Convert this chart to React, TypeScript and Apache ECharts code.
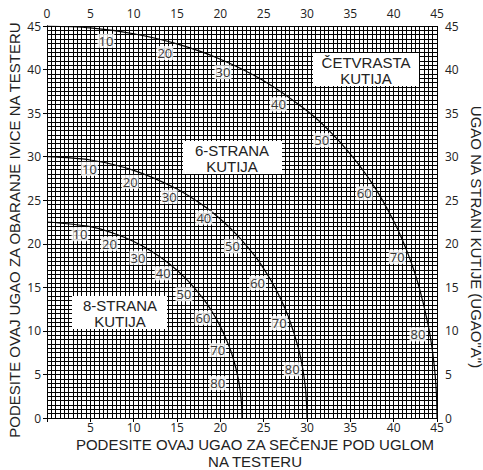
import React, { useEffect, useRef } from "react";
import * as echarts from "echarts";

// Curves: [saw cut angle (x), blade tilt angle (y)]
const squareCurve: number[][] = [[0,45],[5,44.78],[10,44.11],[15,42.94],[20,41.19],[25,38.72],[30,35.26],[33,32.53],[36,29.07],[38,26.19],[40,22.62],[41,20.46],[42,17.92],[43,14.79],[44,10.58],[44.5,7.53],[44.8,4.78],[44.95,2.39],[45,0]];
const sixCurve: number[][] = [[0,30],[5,29.62],[10,28.43],[15,26.29],[18,24.41],[20,22.84],[22,20.93],[24,18.57],[25,17.15],[26,15.52],[27,13.6],[28,11.23],[29,8.04],[29.5,5.71],[29.8,3.63],[29.95,1.55],[30,0]];
const eightCurve: number[][] = [[0,22.5],[5,21.97],[8,21.1],[10,20.26],[12,19.18],[14,17.8],[16,16.03],[18,13.73],[19,12.28],[20,10.52],[21,8.26],[21.5,6.8],[22,4.84],[22.3,3.08],[22.45,1.55],[22.5,0]];

const sideAngles: string[] = ["10","20","30","40","50","60","70","80"];
const squareLabelPos: number[][] = [[6.8,43.3],[13.6,41.9],[20.3,39.7],[26.7,36.0],[31.7,31.9],[36.6,25.8],[40.4,18.5],[42.8,9.6]];
const sixLabelPos: number[][] = [[4.9,28.6],[9.6,27.1],[14.1,25.4],[18.1,23.0],[21.4,19.7],[24.3,15.5],[26.8,10.9],[28.3,5.6]];
const eightLabelPos: number[][] = [[3.8,21.1],[7.2,20.0],[10.5,18.4],[13.4,16.6],[15.8,14.2],[18.0,11.5],[19.7,7.8],[19.7,4.0]];

const TXT = "#222";
const FONT = "'Liberation Sans', Arial, sans-serif";

function labelSeries(pos: number[][]) {
  return {
    type: "scatter",
    symbolSize: 0,
    silent: true,
    z: 5,
    data: pos.map((p, i) => ({ value: p, name: sideAngles[i] })),
    label: {
      show: true,
      position: "inside",
      formatter: (p: any) => p.name,
      color: "#000",
      fontSize: 13,
      fontFamily: "'Open Sans', sans-serif",
      backgroundColor: "#fff",
      padding: [0, 1, 0, 1],
      lineHeight: 14,
    },
  };
}

function curveSeries(data: number[][]) {
  return {
    type: "line",
    data,
    smooth: 0.3,
    showSymbol: false,
    symbol: "none",
    silent: true,
    z: 4,
    lineStyle: { color: "#000", width: 1.2 },
  };
}

export default function App() {
  const ref = useRef<HTMLDivElement>(null);
  useEffect(() => {
    const chart = echarts.init(ref.current!, undefined, { renderer: "svg" });
    const lineStyle = { color: "#000", width: 1 };
    const baseAxis = {
      type: "value",
      min: 0,
      max: 45,
      interval: 5,
      axisLine: { show: true, lineStyle: { color: "#000", width: 1 } },
      axisTick: { show: true, length: 4, lineStyle: { color: "#000" } },
      axisLabel: { color: TXT, fontSize: 12, fontFamily: "'Open Sans', sans-serif", margin: 6, lineHeight: 13 },
    };
    chart.setOption({
      animation: false,
      backgroundColor: "#fff",
      grid: { left: 47, right: 46, top: 26, bottom: 52, containLabel: false },
      xAxis: [
        {
          ...baseAxis,
          position: "bottom",
          splitLine: { show: true, lineStyle },
          minorTick: { show: false, splitNumber: 10 },
          minorSplitLine: { show: true, lineStyle },
          axisLabel: { ...baseAxis.axisLabel, margin: 3, formatter: (v: number) => (v === 0 ? "" : String(v)) },
        },
        {
          ...baseAxis,
          position: "top",
          splitLine: { show: false },
          axisLabel: { ...baseAxis.axisLabel, formatter: (v: number) => String(v) },
        },
      ],
      yAxis: [
        {
          ...baseAxis,
          position: "left",
          splitLine: { show: true, lineStyle },
          minorTick: { show: false, splitNumber: 10 },
          minorSplitLine: { show: true, lineStyle },
        },
        {
          ...baseAxis,
          position: "right",
          splitLine: { show: false },
          axisLabel: { ...baseAxis.axisLabel, margin: 8 },
        },
      ],
      series: [
        curveSeries(squareCurve),
        curveSeries(sixCurve),
        curveSeries(eightCurve),
        labelSeries(squareLabelPos),
        labelSeries(sixLabelPos),
        labelSeries(eightLabelPos),
      ],
      graphic: [
        { type: "rect", shape: { x: 313, y: 53, width: 106, height: 33 }, style: { fill: "#fff" }, z: 10 },
        {
          type: "text", x: 366, y: 70,
          style: { text: "ČETVRASTA\nKUTIJA", fill: TXT, font: `15px ${FONT}`, align: "center", verticalAlign: "middle", lineHeight: 16 },
          z: 11,
        },
        { type: "rect", shape: { x: 183, y: 141, width: 99, height: 33 }, style: { fill: "#fff" }, z: 10 },
        {
          type: "text", x: 232, y: 158,
          style: { text: "6-STRANA\nKUTIJA", fill: TXT, font: `15px ${FONT}`, align: "center", verticalAlign: "middle", lineHeight: 16 },
          z: 11,
        },
        { type: "rect", shape: { x: 72, y: 296, width: 95, height: 33 }, style: { fill: "#fff" }, z: 10 },
        {
          type: "text", x: 120, y: 313,
          style: { text: "8-STRANA\nKUTIJA", fill: TXT, font: `15px ${FONT}`, align: "center", verticalAlign: "middle", lineHeight: 16 },
          z: 11,
        },
        {
          type: "text", x: 14, y: 230, rotation: Math.PI / 2,
          style: { text: "PODESITE OVAJ UGAO ZA OBARANJE IVICE NA TESTERU", fill: TXT, font: `15px ${FONT}`, align: "center", verticalAlign: "middle" },
        },
        {
          type: "text", x: 476, y: 237, rotation: -Math.PI / 2,
          style: { text: "UGAO NA STRANI KUTIJE (UGAO\"A\")", fill: TXT, font: `15px ${FONT}`, align: "center", verticalAlign: "middle" },
        },
        {
          type: "text", x: 255, y: 444,
          style: { text: "PODESITE OVAJ UGAO ZA SEČENJE POD UGLOM", fill: TXT, font: `15px ${FONT}`, align: "center", verticalAlign: "middle", lineHeight: 15 },
        },
        {
          type: "text", x: 255, y: 461,
          style: { text: "NA TESTERU", fill: TXT, font: `15px ${FONT}`, align: "center", verticalAlign: "middle", lineHeight: 15 },
        },
      ],
    });
    return () => chart.dispose();
  }, []);
  return <div ref={ref} style={{ position: "fixed", left: 0, top: 0, width: 483, height: 470 }} />;
}
